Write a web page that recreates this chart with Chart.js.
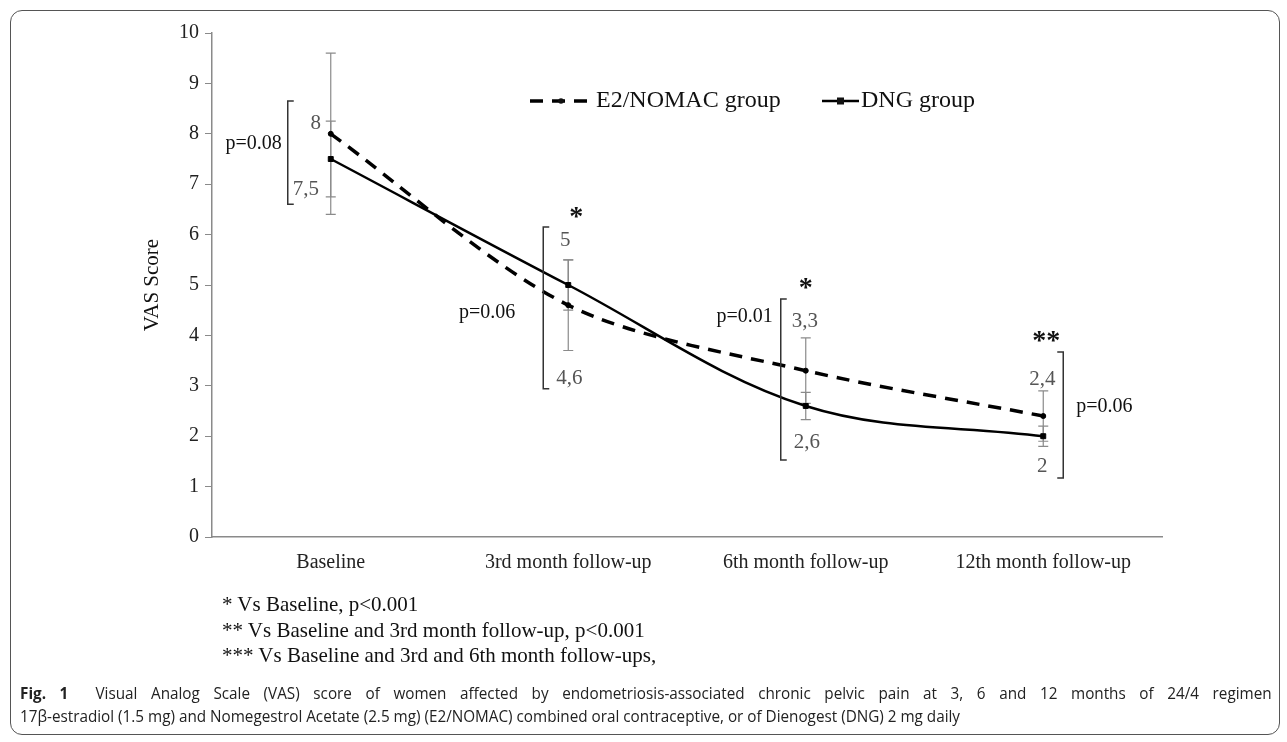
<!DOCTYPE html>
<html>
<head>
<meta charset="utf-8">
<script src="https://cdn.jsdelivr.net/npm/chart.js@4.4.0/dist/chart.umd.min.js"></script>
<style>
    html, body { margin: 0; padding: 0; background: #fff; }
    body { width: 1287px; height: 742px; position: relative; overflow: hidden; }
    #frame { position: absolute; left: 10px; top: 10px; width: 1270px; height: 725px; border: 1.5px solid #555; border-radius: 12px; box-sizing: border-box; }
    #myChart { position: absolute; left: 0; top: 0; }
    .note { position: absolute; left: 222px; font-family: "Liberation Serif", serif; font-size: 21px; line-height: 25px; color: #111; white-space: nowrap; }
    .caption { position: absolute; left: 20px; font-family: "Open Sans", sans-serif; font-size: 16px; line-height: 22px; color: #222; white-space: nowrap; transform-origin: 0 0; }
</style>
</head>
<body>
<div id="frame"></div>
<canvas id="myChart" width="1287" height="742"></canvas>
<div id="notes"></div>
<div class="caption" id="cap1" style="top:682px"><b>Fig. 1</b>&nbsp; Visual Analog Scale (VAS) score of women affected by endometriosis-associated chronic pelvic pain at 3, 6 and 12 months of 24/4 regimen</div>
<div class="caption" id="cap2" style="top:705px">17β-estradiol (1.5 mg) and Nomegestrol Acetate (2.5 mg) (E2/NOMAC) combined oral contraceptive, or of Dienogest (DNG) 2 mg daily</div>
<script>
// data
const categories = ["Baseline", "3rd month follow-up", "6th month follow-up", "12th month follow-up"];
const e2Values = [8, 4.6, 3.3, 2.4];
const dngValues = [7.5, 5, 2.6, 2];
const e2Err = [1.6, 0.9, 0.65, 0.5];
const dngErr = [0.75, 0.5, 0.27, 0.2];
const pLabels = ["p=0.08", "p=0.06", "p=0.01", "p=0.06"];
const sigMarks = ["", "*", "*", "**"];
const seriesNames = ["E2/NOMAC group", "DNG group"];
const footnotes = [
    "* Vs Baseline, p<0.001",
    "** Vs Baseline and 3rd month follow-up, p<0.001",
    "*** Vs Baseline and 3rd and 6th month follow-ups,"
];

// where the brackets / labels sit round each group (pixel offsets + value heights)
const notePos = [
    { side: "L", dx: -43, top: 8.65, bot: 6.6, hi: [-15, 8.2], lo: [-25, 6.9], star: [0, 0], p: [-49, 7.8] },
    { side: "L", dx: -25, top: 6.15, bot: 2.94, hi: [-3, 5.89], lo: [1, 3.15], star: [8, 6.45], p: [-53, 4.44] },
    { side: "L", dx: -25, top: 4.72, bot: 1.53, hi: [-1, 4.27], lo: [1, 1.87], star: [0, 5.04], p: [-33, 4.37] },
    { side: "R", dx: 20, top: 3.67, bot: 1.17, hi: [-1, 3.12], lo: [-1, 1.39], star: [3, 4.0], p: [33, 2.58] }
];

function fmt(v) {
    return String(v).replace(".", ",");
}

// footnotes
footnotes.forEach(function (txt, i) {
    let d = document.createElement("div");
    d.className = "note";
    d.style.top = (592 + i * 25.5) + "px";
    d.textContent = txt;
    document.getElementById("notes").appendChild(d);
});

// caption: condensed font look, first line justified to full width
const cap1 = document.getElementById("cap1");
const cap2 = document.getElementById("cap2");
const sx = 940 / cap2.getBoundingClientRect().width;
cap2.style.transform = "scaleX(" + sx + ")";
const w1 = cap1.getBoundingClientRect().width;
const gaps = cap1.textContent.split(" ").length - 1;
cap1.style.wordSpacing = ((1242 / sx - w1) / gaps) + "px";
cap1.style.transform = "scaleX(" + sx + ")";

const serif = "'Liberation Serif', 'Times New Roman', serif";

const errorBars = {
    id: "errorBars",
    beforeDatasetsDraw(chart) {
        const ctx = chart.ctx;
        const x = chart.scales.x, y = chart.scales.y;
        ctx.save();
        ctx.strokeStyle = "#8a8a8a";
        ctx.lineWidth = 1.2;
        [[e2Values, e2Err], [dngValues, dngErr]].forEach(function (s) {
            s[0].forEach(function (v, i) {
                const px = x.getPixelForValue(i);
                const y1 = y.getPixelForValue(v + s[1][i]);
                const y2 = y.getPixelForValue(v - s[1][i]);
                ctx.beginPath();
                ctx.moveTo(px, y1); ctx.lineTo(px, y2);
                ctx.moveTo(px - 5, y1); ctx.lineTo(px + 5, y1);
                ctx.moveTo(px - 5, y2); ctx.lineTo(px + 5, y2);
                ctx.stroke();
            });
        });
        ctx.restore();
    }
};

const notesPlugin = {
    id: "notesPlugin",
    afterDatasetsDraw(chart) {
        const ctx = chart.ctx;
        const x = chart.scales.x, y = chart.scales.y;
        ctx.save();
        ctx.textBaseline = "middle";
        notePos.forEach(function (n, i) {
            const cx = x.getPixelForValue(i);
            const hiV = Math.max(e2Values[i], dngValues[i]);
            const loV = Math.min(e2Values[i], dngValues[i]);
            // bracket
            const bx = cx + n.dx;
            const t = y.getPixelForValue(n.top), b = y.getPixelForValue(n.bot);
            const arm = n.side === "L" ? 6 : -6;
            ctx.strokeStyle = "#333";
            ctx.lineWidth = 1.5;
            ctx.beginPath();
            ctx.moveTo(bx + arm, t); ctx.lineTo(bx, t); ctx.lineTo(bx, b); ctx.lineTo(bx + arm, b);
            ctx.stroke();
            // value labels
            ctx.fillStyle = "#555";
            ctx.font = "21px " + serif;
            ctx.textAlign = "center";
            ctx.fillText(fmt(hiV), cx + n.hi[0], y.getPixelForValue(n.hi[1]));
            ctx.fillText(fmt(loV), cx + n.lo[0], y.getPixelForValue(n.lo[1]));
            // p value
            ctx.fillStyle = "#111";
            ctx.font = "20px " + serif;
            ctx.textAlign = n.side === "L" ? "right" : "left";
            ctx.fillText(pLabels[i], cx + n.p[0], y.getPixelForValue(n.p[1]));
            // significance stars
            if (sigMarks[i]) {
                ctx.font = "bold 28px " + serif;
                ctx.textAlign = "center";
                ctx.fillText(sigMarks[i], cx + n.star[0], y.getPixelForValue(n.star[1]) + 6);
            }
        });

        // legend
        const ly = 101;
        ctx.font = "24px " + serif;
        ctx.textAlign = "left";
        ctx.fillStyle = "#111";
        ctx.strokeStyle = "#000";
        ctx.lineWidth = 3.5;
        ctx.setLineDash([13, 9]);
        ctx.beginPath(); ctx.moveTo(530, ly); ctx.lineTo(592, ly); ctx.stroke();
        ctx.setLineDash([]);
        ctx.beginPath(); ctx.arc(561, ly, 2.8, 0, Math.PI * 2); ctx.fill();
        ctx.fillText(seriesNames[0], 596, ly);
        ctx.lineWidth = 2.5;
        ctx.beginPath(); ctx.moveTo(822, ly); ctx.lineTo(859, ly); ctx.stroke();
        ctx.fillRect(837, ly - 3.5, 7, 7);
        ctx.fillText(seriesNames[1], 861, ly);
        ctx.restore();
    }
};

const data = {
    labels: categories,
    datasets: [
        {
            label: seriesNames[0],
            data: e2Values,
            borderColor: "#000",
            backgroundColor: "#000",
            borderWidth: 3.5,
            borderDash: [13, 9],
            tension: 0.3,
            pointStyle: "circle",
            pointRadius: 2.5,
            pointBorderWidth: 1,
            pointBackgroundColor: "#000"
        },
        {
            label: seriesNames[1],
            data: dngValues,
            borderColor: "#000",
            backgroundColor: "#000",
            borderWidth: 2.5,
            tension: 0.35,
            pointStyle: "rect",
            pointRadius: 3.5,
            pointBorderWidth: 1,
            pointBackgroundColor: "#000"
        }
    ]
};

const config = {
    type: "line",
    data: data,
    options: {
        responsive: false,
        animation: false,
        layout: { padding: { left: 136, top: 33, right: 125, bottom: 160 } },
        plugins: { legend: { display: false }, tooltip: { enabled: false } },
        scales: {
            x: {
                offset: true,
                grid: { drawOnChartArea: false, drawTicks: false },
                border: { display: true, color: "#8a8a8a", width: 1.5 },
                ticks: { padding: 14, color: "#222", font: { family: serif, size: 20 } },
                afterFit: function (s) { s.height = 45; }
            },
            y: {
                min: 0,
                max: 10,
                ticks: { stepSize: 1, padding: 6, color: "#222", font: { family: serif, size: 20 } },
                grid: { drawOnChartArea: false, drawTicks: true, tickLength: 7, color: "#8a8a8a" },
                border: { display: true, color: "#8a8a8a", width: 1.5 },
                title: { display: true, text: "VAS Score", color: "#111", font: { family: serif, size: 21 }, padding: 4 },
                afterFit: function (s) { s.width = 76; }
            }
        }
    },
    plugins: [errorBars, notesPlugin]
};

const myChart = new Chart(document.getElementById("myChart"), config);
</script>
</body>
</html>
